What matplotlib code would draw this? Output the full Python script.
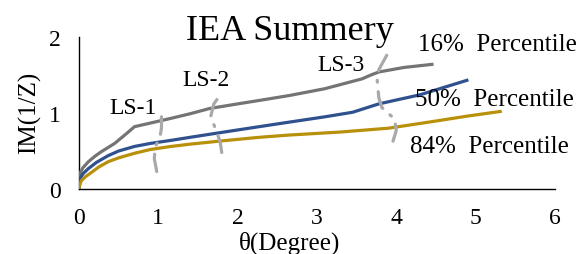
import matplotlib.pyplot as plt
import numpy as np

plt.rcParams['font.family'] = ['Liberation Serif', 'DejaVu Serif']

# percentile curves
p16_x = [0, 0.01, 0.05, 0.12, 0.2, 0.28, 0.45, 0.6, 0.7, 0.91, 1.16, 1.4, 1.65, 2.0, 2.3, 2.65, 3.1, 3.57, 3.68, 3.78, 4.1, 4.45]
p16_y = [0.03, 0.2, 0.28, 0.36, 0.43, 0.49, 0.6, 0.73, 0.82, 0.87, 0.93, 0.99, 1.06, 1.12, 1.17, 1.23, 1.32, 1.45, 1.5, 1.54, 1.6, 1.64]
p50_x = [0, 0.01, 0.05, 0.12, 0.22, 0.37, 0.5, 0.7, 0.9, 1.16, 1.4, 1.77, 2.27, 2.65, 3.1, 3.45, 3.6, 3.78, 4.3, 4.89]
p50_y = [0.02, 0.13, 0.2, 0.27, 0.35, 0.44, 0.5, 0.56, 0.6, 0.64, 0.68, 0.74, 0.82, 0.88, 0.95, 1.01, 1.06, 1.12, 1.24, 1.43]
p84_x = [0, 0.03, 0.08, 0.16, 0.25, 0.37, 0.5, 0.7, 0.9, 1.16, 1.4, 1.77, 2.27, 2.65, 3.3, 3.9, 4.41, 4.9, 5.31]
p84_y = [0.02, 0.11, 0.16, 0.22, 0.29, 0.36, 0.41, 0.47, 0.52, 0.56, 0.59, 0.63, 0.68, 0.71, 0.75, 0.8, 0.88, 0.96, 1.02]

# limit-state markers
ls1_x = [0.98, 0.95, 0.96, 1.02, 1.04, 1.04]
ls1_y = [0.23, 0.4, 0.55, 0.68, 0.8, 0.98]
ls2_x = [1.8, 1.78, 1.73, 1.66, 1.7, 1.79]
ls2_y = [0.48, 0.62, 0.77, 0.95, 1.12, 1.25]
ls3_x = [3.88, 3.78, 3.76, 3.78, 3.82, 3.98, 4.0, 3.95]
ls3_y = [1.76, 1.57, 1.43, 1.2, 1.07, 0.92, 0.77, 0.6]

fig = plt.figure(figsize=(5.79, 2.55), dpi=100)
ax = fig.add_axes([0.1364, 0.2549, 0.822, 0.596])

ax.plot(p16_x, p16_y, color='#747474', lw=2.3, zorder=3)
ax.plot(p50_x, p50_y, color='#2F528F', lw=2.3, zorder=3)
ax.plot(p84_x, p84_y, color='#B8900A', lw=2.3, zorder=3)

for lx, ly in [(ls1_x, ls1_y), (ls2_x, ls2_y), (ls3_x, ls3_y)]:
    ax.plot(lx, ly, color='#A9A9A9', lw=2.3, dashes=(5.5, 3, 0.6, 3),
            solid_capstyle='round', dash_capstyle='round', zorder=4)

ax.set_xlim(0, 6)
ax.set_ylim(0, 2)
ax.set_xticks([0, 1, 2, 3, 4, 5, 6])
ax.set_yticks([0, 1, 2])
ax.tick_params(length=0, labelsize=17, pad=13)
for s in ['top', 'right']:
    ax.spines[s].set_visible(False)
for s in ['left', 'bottom']:
    ax.spines[s].set_color('black')
    ax.spines[s].set_linewidth(1.0)

fig.text(0.5, 1 - 243 / 255, 'θ(Degree)', ha='center', va='center', fontsize=18)
fig.text(30 / 579, 1 - 113 / 255, 'IM(1/Z)', ha='center', va='center', fontsize=18, rotation=90)
fig.text(290 / 579, 1 - 32 / 255, 'IEA Summery', ha='center', va='center', fontsize=26)

fig.text(418 / 579, 1 - 45 / 255, '16%  Percentile', ha='left', va='center', fontsize=18)
fig.text(415 / 579, 1 - 100 / 255, '50%  Percentile', ha='left', va='center', fontsize=18)
fig.text(410 / 579, 1 - 147 / 255, '84%  Percentile', ha='left', va='center', fontsize=18)

fig.text(133 / 579, 1 - 108 / 255, 'LS-1', ha='center', va='center', fontsize=17)
fig.text(206 / 579, 1 - 80 / 255, 'LS-2', ha='center', va='center', fontsize=17)
fig.text(341 / 579, 1 - 66 / 255, 'LS-3', ha='center', va='center', fontsize=17)

fig.savefig('out.png', dpi=100)
